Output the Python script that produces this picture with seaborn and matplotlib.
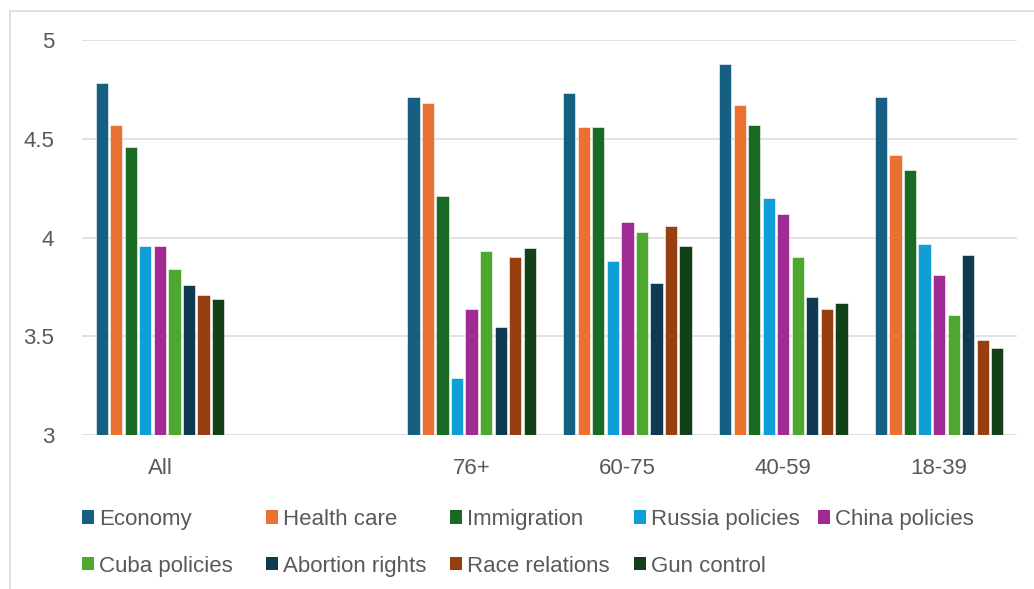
import matplotlib
matplotlib.use("Agg")
import matplotlib.pyplot as plt
from matplotlib.lines import Line2D
import seaborn as sns
import pandas as pd

# Age groups shown on the x axis (an empty slot separates "All" from the age bands)
groups = ["All", "76+", "60-75", "40-59", "18-39"]
axis_order = ["All", " ", "76+", "60-75", "40-59", "18-39"]

issues = ["Economy", "Health care", "Immigration", "Russia policies", "China policies",
          "Cuba policies", "Abortion rights", "Race relations", "Gun control"]

# Mean importance score per issue, one list per group (same order as `issues`)
all_ages = [4.78, 4.57, 4.46, 3.96, 3.96, 3.84, 3.76, 3.71, 3.69]
age_76_plus = [4.71, 4.68, 4.21, 3.29, 3.64, 3.93, 3.55, 3.90, 3.95]
age_60_75 = [4.73, 4.56, 4.56, 3.88, 4.08, 4.03, 3.77, 4.06, 3.96]
age_40_59 = [4.88, 4.67, 4.57, 4.20, 4.12, 3.90, 3.70, 3.64, 3.67]
age_18_39 = [4.71, 4.42, 4.34, 3.97, 3.81, 3.61, 3.91, 3.48, 3.44]

y_ticks = [3, 3.5, 4, 4.5, 5]
y_tick_labels = ["3", "3.5", "4", "4.5", "5"]

colors = ["#156082", "#E97132", "#196B24", "#0F9ED5", "#A02B93",
          "#4EA72E", "#0E3A52", "#983F12", "#114019"]

rows = []
for g, vals in zip(groups, [all_ages, age_76_plus, age_60_75, age_40_59, age_18_39]):
    for issue, v in zip(issues, vals):
        rows.append({"group": g, "issue": issue, "score": v})
df = pd.DataFrame(rows)

sns.set_theme(style="white")
plt.rcParams["font.family"] = ["Liberation Sans", "DejaVu Sans"]
text_color = "#595959"
grid_color = "#D9D9D9"
fs = 16

W, H = 1034, 589
fig = plt.figure(figsize=(W / 100, H / 100), dpi=100)
ax = fig.add_axes([82 / W, 1 - 435.3 / H, 935 / W, 395.3 / H])

sns.barplot(data=df, x="group", y="score", hue="issue", order=axis_order,
            hue_order=issues, palette=colors, saturation=1, width=0.84, gap=0.16,
            edgecolor="white", linewidth=0.4, ax=ax)

ax.set_ylim(3, 5)
ax.set_xlim(-0.5, len(axis_order) - 0.5)
ax.set_yticks(y_ticks)
ax.set_yticklabels(y_tick_labels)
ax.yaxis.grid(True, color=grid_color, linewidth=1.1)
ax.set_axisbelow(True)
for s in ["top", "right", "left", "bottom"]:
    ax.spines[s].set_visible(False)
ax.tick_params(axis="y", length=0, pad=20, labelsize=fs, labelcolor=text_color)
ax.tick_params(axis="x", length=0, pad=16, labelsize=fs, labelcolor=text_color)
ax.set_xlabel("")
ax.set_ylabel("")

handles, labels = ax.get_legend_handles_labels()
ax.get_legend().remove()

# legend: two rows laid out in fixed-width slots
for col in range(5):
    idx = [i for i in (col, col + 5) if i < len(issues)]
    leg = fig.legend([handles[i] for i in idx], [labels[i] for i in idx],
                     loc="upper left", bbox_to_anchor=((82 + 184 * col) / W, 1 - 509 / H),
                     frameon=False, fontsize=fs, handlelength=0.55, handleheight=0.55,
                     handletextpad=0.2, labelspacing=1.15, borderpad=0, borderaxespad=0,
                     labelcolor=text_color)
    for h in leg.legend_handles:
        h.set_edgecolor("none")

# chart-area frame along the top and left edges
fig.add_artist(Line2D([10 / W, 1], [1 - 11 / H, 1 - 11 / H], color=grid_color, lw=1.2))
fig.add_artist(Line2D([10 / W, 10 / W], [0, 1 - 11 / H], color=grid_color, lw=1.2))

fig.savefig("out.png", dpi=100, facecolor="white")
